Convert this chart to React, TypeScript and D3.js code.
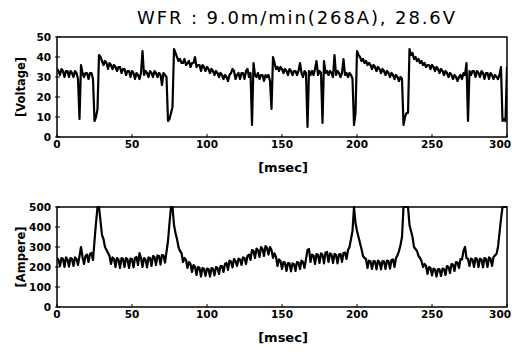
import React from "react";
import * as d3 from "d3";

const TITLE = "WFR : 9.0m/min(268A), 28.6V";
const X_TICKS = [0, 50, 100, 150, 200, 250, 300];
const V_TICKS = [0, 10, 20, 30, 40, 50];
const A_TICKS = [0, 100, 200, 300, 400, 500];
const SAMPLE_MS = 1;

// Arc voltage [V], one sample per ms, 0..300 ms
const voltage = [
  34, 33, 31, 34, 33, 30, 33, 33, 30, 33,
  32, 30, 33, 32, 29, 9, 36, 32, 30, 32,
  32, 29, 32, 32, 29, 8, 10, 14, 41, 40,
  38, 36, 38, 37, 34, 37, 36, 34, 36, 35,
  33, 35, 35, 32, 34, 34, 31, 33, 33, 30,
  33, 32, 29, 32, 31, 29, 32, 43, 31, 33,
  32, 30, 33, 32, 30, 33, 32, 30, 32, 31,
  26, 32, 31, 30, 8, 9, 12, 15, 44, 42,
  40, 38, 39, 37, 37, 39, 36, 37, 38, 35,
  37, 37, 40, 35, 36, 36, 33, 36, 35, 33,
  35, 34, 32, 34, 33, 31, 33, 32, 30, 32,
  31, 29, 31, 30, 28, 31, 32, 34, 33, 29,
  31, 32, 29, 32, 32, 29, 33, 34, 30, 32,
  6, 37, 31, 30, 32, 29, 31, 31, 28, 31,
  30, 31, 28, 14, 40, 37, 34, 35, 33, 35,
  34, 32, 34, 33, 31, 34, 33, 31, 33, 33,
  31, 33, 37, 32, 30, 33, 32, 5, 33, 31,
  33, 31, 34, 38, 31, 33, 32, 7, 38, 32,
  33, 31, 33, 32, 30, 41, 31, 33, 32, 30,
  32, 39, 31, 32, 30, 32, 31, 29, 6, 12,
  43, 41, 40, 38, 39, 37, 38, 36, 37, 36,
  34, 36, 35, 33, 35, 34, 32, 34, 33, 31,
  33, 32, 30, 32, 31, 29, 31, 30, 28, 30,
  29, 6, 10, 12, 12, 44, 41, 42, 39, 40,
  38, 39, 37, 38, 36, 37, 35, 36, 36, 34,
  36, 35, 33, 35, 34, 32, 34, 33, 31, 33,
  32, 30, 32, 31, 29, 31, 30, 28, 30, 31,
  29, 32, 31, 37, 8, 33, 31, 33, 33, 30,
  33, 32, 30, 33, 32, 29, 32, 32, 29, 32,
  31, 29, 31, 30, 29, 31, 35, 8, 9, 8,
  35,
];

// Welding current [A], one sample per ms, 0..300 ms
const current = [
  245, 235, 205, 245, 240, 200, 248, 238, 202, 245,
  240, 205, 248, 240, 210, 255, 300, 250, 215, 255,
  262, 225, 265, 270, 235, 330, 420, 500, 500, 430,
  360, 340, 300, 285, 270, 255, 215, 248, 240, 200,
  245, 238, 195, 245, 240, 200, 245, 238, 195, 242,
  240, 198, 245, 250, 210, 270, 245, 200, 245, 238,
  198, 248, 245, 205, 255, 250, 210, 258, 255, 212,
  260, 258, 222, 275, 330, 420, 500, 500, 410, 370,
  340, 300, 280, 270, 225, 245, 235, 195, 225, 215,
  175, 210, 200, 160, 200, 195, 152, 195, 190, 155,
  192, 190, 152, 195, 190, 158, 200, 195, 165, 205,
  205, 175, 215, 220, 185, 232, 228, 198, 240, 230,
  205, 242, 238, 210, 248, 245, 215, 255, 262, 235,
  285, 280, 245, 292, 285, 250, 300, 290, 255, 305,
  295, 262, 300, 285, 245, 268, 250, 205, 238, 230,
  190, 225, 220, 180, 220, 218, 178, 218, 215, 180,
  225, 222, 190, 232, 225, 195, 240, 285, 290, 225,
  262, 258, 215, 265, 260, 220, 268, 262, 218, 272,
  275, 225, 268, 262, 220, 265, 260, 218, 262, 265,
  225, 270, 272, 240, 285, 300, 340, 380, 500, 420,
  380, 350, 320, 290, 255, 245, 240, 195, 232, 228,
  190, 230, 228, 188, 232, 225, 188, 230, 228, 190,
  232, 230, 192, 235, 238, 200, 245, 258, 280, 310,
  350, 500, 500, 500, 500, 410, 380, 350, 300, 290,
  280, 255, 245, 230, 200, 215, 205, 165, 200, 195,
  158, 192, 188, 152, 190, 188, 155, 192, 190, 160,
  205, 200, 170, 215, 212, 180, 225, 222, 195, 240,
  238, 280, 300, 245, 240, 205, 242, 238, 200, 245,
  240, 200, 242, 238, 198, 245, 240, 200, 248, 242,
  205, 250, 258, 265, 300, 370, 440, 500, 500, 500,
  500,
];

const W = 512;
const H = 355;
const LEFT = 57;
const RIGHT = 507;
const TICK_FONT = "'DejaVu Sans', sans-serif";

type PanelProps = {
  values: number[];
  yMax: number;
  yTicks: number[];
  top: number;
  bottom: number;
  yLabel: string;
  clipId: string;
};

function Panel({ values, yMax, yTicks, top, bottom, yLabel, clipId }: PanelProps) {
  const x = d3.scaleLinear().domain([0, 300]).range([LEFT, RIGHT]);
  const y = d3.scaleLinear().domain([0, yMax]).range([bottom, top]);
  const line = d3
    .line<number>()
    .x((_, i) => x(i * SAMPLE_MS))
    .y((d) => y(d));
  return (
    <g>
      <defs>
        <clipPath id={clipId}>
          <rect x={LEFT} y={top - 1} width={RIGHT - LEFT} height={bottom - top + 2} />
        </clipPath>
      </defs>
      <path
        d={line(values) || ""}
        fill="none"
        stroke="#000"
        strokeWidth={2.2}
        strokeLinejoin="round"
        clipPath={`url(#${clipId})`}
      />
      <rect x={LEFT} y={top} width={RIGHT - LEFT} height={bottom - top} fill="none" stroke="#000" strokeWidth={1.5} />
      {yTicks.map((t) => (
        <g key={"y" + t}>
          <line x1={LEFT - 2} x2={LEFT + 3} y1={y(t)} y2={y(t)} stroke="#000" strokeWidth={1} />
          <text
            x={51}
            y={y(t) + 3.8}
            textAnchor="end"
            fontFamily={TICK_FONT}
            fontWeight="bold"
            fontSize={10.5}
          >
            {t}
          </text>
        </g>
      ))}
      {X_TICKS.map((t) => {
        const last = x(t) + 11 > W;
        return (
          <g key={"x" + t}>
            <line x1={x(t)} x2={x(t)} y1={bottom} y2={bottom - 3} stroke="#000" strokeWidth={1} />
            <text
              x={last ? W - 1 : x(t)}
              y={bottom + 11}
              textAnchor={last ? "end" : "middle"}
              fontFamily={TICK_FONT}
              fontWeight="bold"
              fontSize={10.5}
            >
              {t}
            </text>
          </g>
        );
      })}
      <text
        transform={`translate(25, ${(top + bottom) / 2}) rotate(-90)`}
        textAnchor="middle"
        fontFamily={TICK_FONT}
        fontWeight="bold"
        fontSize={11.5}
      >
        {yLabel}
      </text>
      <text
        x={283}
        y={bottom + 35}
        textAnchor="middle"
        fontFamily={TICK_FONT}
        fontWeight={600}
        fontSize={13}
      >
        [msec]
      </text>
    </g>
  );
}

export default function App() {
  return (
    <svg
      width={W}
      height={H}
      viewBox={`0 0 ${W} ${H}`}
      style={{ position: "absolute", left: 0, top: 0, background: "#fff" }}
    >
      <rect x={0} y={0} width={W} height={H} fill="#fff" />
      <text
        x={296}
        y={24}
        textAnchor="middle"
        fontFamily={TICK_FONT}
        fontSize={18}
        textLength={318}
        lengthAdjust="spacing"
      >
        {TITLE}
      </text>
      <Panel values={voltage} yMax={50} yTicks={V_TICKS} top={37} bottom={137} yLabel="[Voltage]" clipId="clipV" />
      <Panel values={current} yMax={500} yTicks={A_TICKS} top={207} bottom={307} yLabel="[Ampere]" clipId="clipA" />
    </svg>
  );
}
